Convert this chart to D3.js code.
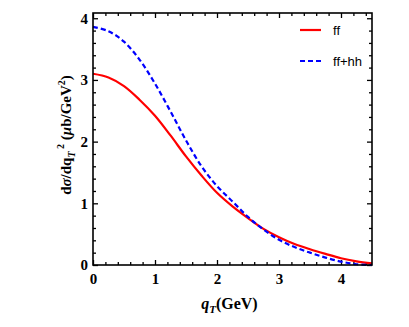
<!DOCTYPE html>
<html>
<head>
<meta charset="utf-8">
<script src="https://cdn.jsdelivr.net/npm/d3@7"></script>
<style>
  body { margin: 0; background: #fff; }
  text { font-family: "Liberation Serif", "Times New Roman", serif; }
</style>
</head>
<body>
<div id="chart"></div>
<script>
// data
var qT = [0, 0.25, 0.5, 0.75, 1.0, 1.25, 1.5, 1.75, 2.0, 2.25, 2.5, 2.75, 3.0, 3.25, 3.5, 3.75, 4.0, 4.25, 4.5];
var ff = [3.10, 3.04, 2.90, 2.68, 2.42, 2.10, 1.76, 1.45, 1.17, 0.95, 0.76, 0.585, 0.45, 0.34, 0.255, 0.18, 0.11, 0.06, 0.025];
var ffhh = [3.86, 3.79, 3.62, 3.33, 2.94, 2.49, 2.02, 1.60, 1.28, 1.03, 0.78, 0.575, 0.41, 0.29, 0.20, 0.12, 0.055, 0.012, 0.0];
var xTicks = [0, 1, 2, 3, 4];
var yTicks = [0, 1, 2, 3, 4];
var seriesNames = ["ff", "ff+hh"];
var seriesColors = ["#ff0000", "#0000ff"];

var W = 409, H = 327;
var margin = {top: 13, right: 37, bottom: 62, left: 93};
var width = W - margin.left - margin.right,
    height = H - margin.top - margin.bottom;

var svg = d3.select("#chart").append("svg")
    .attr("width", W)
    .attr("height", H);

var g = svg.append("g")
    .attr("transform", "translate(" + margin.left + "," + margin.top + ")");

var x = d3.scaleLinear().domain([0, 4.5]).range([0, width]);
var y = d3.scaleLinear().domain([0, 4.085]).range([height, 0]);

var xMinor = d3.range(0, 4.51, 0.2).filter(function(v) { return Math.abs(v - Math.round(v)) > 1e-6; });
var yMinor = d3.range(0, 4.09, 0.2).filter(function(v) { return Math.abs(v - Math.round(v)) > 1e-6; });

// axes with inward ticks on all sides
function tickAxis(axisFn, scale, values, size, labels) {
  return axisFn(scale).tickValues(values).tickSize(-size).tickPadding(6)
    .tickFormat(labels ? d3.format("d") : "");
}

var axBottom = g.append("g").attr("transform", "translate(0," + height + ")");
axBottom.append("g").call(tickAxis(d3.axisBottom, x, xTicks, 5, true));
axBottom.append("g").call(tickAxis(d3.axisBottom, x, xMinor, 3, false));

var axTop = g.append("g");
axTop.append("g").call(tickAxis(d3.axisTop, x, xTicks, 5, false));
axTop.append("g").call(tickAxis(d3.axisTop, x, xMinor, 3, false));

var axLeft = g.append("g");
axLeft.append("g").call(tickAxis(d3.axisLeft, y, yTicks, 5, true));
axLeft.append("g").call(tickAxis(d3.axisLeft, y, yMinor, 3, false));

var axRight = g.append("g").attr("transform", "translate(" + width + ",0)");
axRight.append("g").call(tickAxis(d3.axisRight, y, yTicks, 5, false));
axRight.append("g").call(tickAxis(d3.axisRight, y, yMinor, 3, false));

g.selectAll(".domain").remove();
g.selectAll(".tick line").attr("stroke", "#000").attr("stroke-width", 1.3);
g.selectAll(".tick text")
  .attr("fill", "#000")
  .style("font-family", "'Liberation Serif', serif")
  .style("font-size", "15px")
  .style("font-weight", "bold");
axBottom.selectAll(".tick text").attr("dy", "0.85em");
axLeft.selectAll(".tick text").attr("dx", "1px");

// curves
var line = d3.line()
  .x(function(d) { return x(d[0]); })
  .y(function(d) { return y(d[1]); })
  .curve(d3.curveCatmullRom);

var series = [ff, ffhh];
series.forEach(function(vals, i) {
  g.append("path")
    .datum(qT.map(function(q, j) { return [q, vals[j]]; }))
    .attr("d", line)
    .attr("fill", "none")
    .attr("stroke", seriesColors[i])
    .attr("stroke-width", 2.2)
    .attr("stroke-dasharray", i === 1 ? "5,3" : null);
});

// frame
g.append("rect")
  .attr("width", width)
  .attr("height", height)
  .attr("fill", "none")
  .attr("stroke", "#000")
  .attr("stroke-width", 1.6);

// legend
var legend = g.append("g").attr("transform", "translate(207,17)");
seriesNames.forEach(function(name, i) {
  var row = legend.append("g").attr("transform", "translate(0," + (i * 31) + ")");
  row.append("line")
    .attr("x1", 0).attr("x2", 21)
    .attr("stroke", seriesColors[i])
    .attr("stroke-width", 2.2)
    .attr("stroke-dasharray", i === 1 ? "5,3" : null);
  row.append("text")
    .attr("x", 33).attr("y", 5)
    .style("font-family", "'Liberation Sans', Arial, sans-serif")
    .style("font-size", "13px")
    .text(name);
});

// x label
var xl = svg.append("text")
  .attr("x", margin.left + x(2.2))
  .attr("y", 309)
  .attr("text-anchor", "middle")
  .style("font-size", "16px")
  .style("font-weight", "bold");
xl.append("tspan").style("font-style", "italic").text("q");
xl.append("tspan").style("font-style", "italic").style("font-size", "11px").attr("dy", 4).text("T");
xl.append("tspan").attr("dy", -4).text("(GeV)");

// y label
var yl = svg.append("text")
  .attr("transform", "translate(71," + (margin.top + height / 2 - 4) + ") rotate(-90)")
  .attr("text-anchor", "middle")
  .style("font-size", "15px")
  .style("font-weight", "bold");
yl.append("tspan").text("d");
yl.append("tspan").style("font-style", "italic").text("σ");
yl.append("tspan").text("/dq");
yl.append("tspan").style("font-style", "italic").style("font-size", "10px").attr("dy", 4).text("T");
yl.append("tspan").style("font-size", "10px").attr("dy", -11).text(" 2");
yl.append("tspan").attr("dy", 7).text(" (");
yl.append("tspan").style("font-style", "italic").text("μ");
yl.append("tspan").text("b/GeV");
yl.append("tspan").style("font-size", "10px").attr("dy", -6).text("2");
yl.append("tspan").attr("dy", 6).text(")");
</script>
</body>
</html>
